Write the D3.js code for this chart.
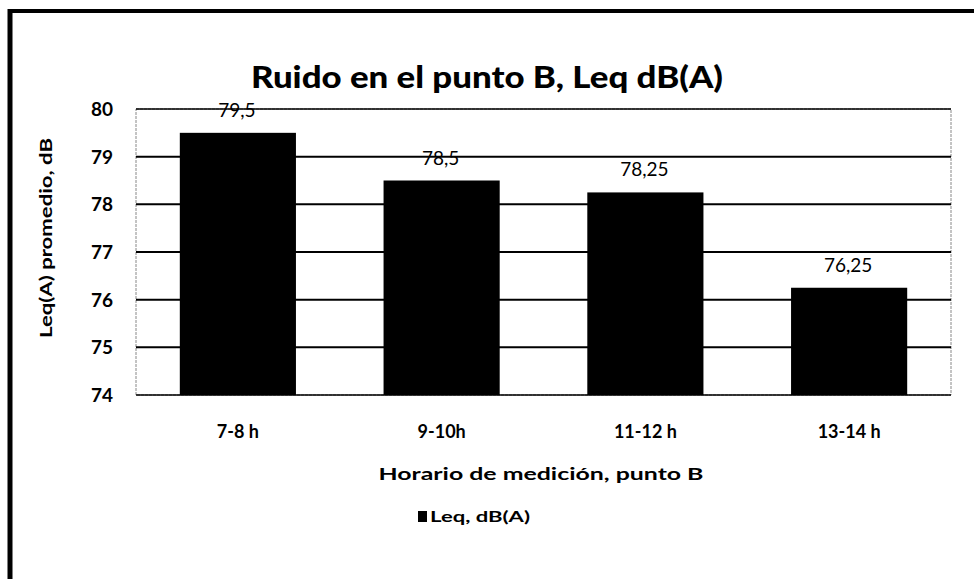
<!DOCTYPE html>
<html>
<head>
<meta charset="utf-8">
<script src="https://cdn.jsdelivr.net/npm/d3@7"></script>
<style>
  body { margin: 0; background: #fff; }
  svg text { font-family: Lato, "Open Sans", sans-serif; fill: #000; }
</style>
</head>
<body>
<svg id="chart" width="974" height="579"></svg>
<script>
var categories = ["7-8 h", "9-10h", "11-12 h", "13-14 h"];
var values = [79.5, 78.5, 78.25, 76.25];
var valueLabels = ["79,5", "78,5", "78,25", "76,25"];
var yTicks = [74, 75, 76, 77, 78, 79, 80];

var width = 974, height = 579;
var margin = {top: 109, right: 23, bottom: 184, left: 136};

var svg = d3.select("#chart");

// outer frame (only top and left edges visible in the scan)
svg.append("line").attr("x1", 10).attr("x2", 974).attr("y1", 11).attr("y2", 11)
  .attr("stroke", "#000").attr("stroke-width", 4);
svg.append("line").attr("x1", 10).attr("x2", 10).attr("y1", 9).attr("y2", 579)
  .attr("stroke", "#000").attr("stroke-width", 5);

var x = d3.scaleBand()
  .domain(categories)
  .range([margin.left, width - margin.right])
  .paddingInner(0.43)
  .paddingOuter(0.215);

var y = d3.scaleLinear()
  .domain([74, 80])
  .range([height - margin.bottom, margin.top]);

// plot area border
svg.append("rect")
  .attr("x", margin.left).attr("y", margin.top)
  .attr("width", width - margin.right - margin.left)
  .attr("height", height - margin.bottom - margin.top)
  .attr("fill", "none").attr("stroke", "#888").attr("stroke-width", 1)
  .attr("stroke-dasharray", "3,1");

// gridlines
svg.append("g").selectAll("line")
  .data(yTicks)
  .enter().append("line")
  .attr("x1", margin.left).attr("x2", width - margin.right)
  .attr("y1", function(d) { return y(d); })
  .attr("y2", function(d) { return y(d); })
  .attr("stroke", "#000")
  .attr("stroke-width", function(d) { return d == 74 || d == 80 ? 1.5 : 2; });

// y axis labels
var yAxis = d3.axisLeft(y).tickValues(yTicks).tickFormat(d3.format("d")).tickSize(0).tickPadding(0);
var yg = svg.append("g").attr("transform", "translate(113,0)").call(yAxis);
yg.select(".domain").remove();
yg.selectAll("text")
  .style("font-size", "19px").style("font-weight", "bold")
  .style("font-family", "Lato, sans-serif")
  .attr("dy", "0.35em");

// bars
svg.append("g").selectAll("rect")
  .data(values)
  .enter().append("rect")
  .attr("x", function(d, i) { return x(categories[i]); })
  .attr("y", function(d) { return y(d); })
  .attr("width", x.bandwidth())
  .attr("height", function(d) { return y(74) - y(d); })
  .attr("fill", "#000");

// value labels
svg.append("g").selectAll("text")
  .data(values)
  .enter().append("text")
  .attr("x", function(d, i) { return x(categories[i]) + x.bandwidth() / 2 - 1; })
  .attr("y", function(d) { return y(d) - 16; })
  .attr("text-anchor", "middle")
  .style("font-size", "19px")
  .text(function(d, i) { return valueLabels[i]; });

// x axis labels
var xAxis = d3.axisBottom(x).tickSize(0).tickPadding(0);
var xg = svg.append("g").attr("transform", "translate(0,425)").call(xAxis);
xg.select(".domain").remove();
xg.selectAll("text")
  .style("font-size", "18px").style("font-weight", "bold")
  .style("font-family", "Lato, sans-serif");

// title
svg.append("text")
  .attr("x", 487).attr("y", 88)
  .attr("text-anchor", "middle")
  .attr("textLength", 472).attr("lengthAdjust", "spacingAndGlyphs")
  .style("font-size", "31px").style("font-weight", "900")
  .text("Ruido en el punto B, Leq dB(A)");

// x axis title
svg.append("text")
  .attr("x", 541).attr("y", 480)
  .attr("text-anchor", "middle")
  .attr("textLength", 325).attr("lengthAdjust", "spacingAndGlyphs")
  .style("font-size", "17px").style("font-weight", "bold")
  .text("Horario de medición, punto B");

// y axis title
svg.append("text")
  .attr("transform", "translate(52,238) rotate(-90)")
  .attr("text-anchor", "middle")
  .attr("textLength", 200).attr("lengthAdjust", "spacingAndGlyphs")
  .style("font-size", "17px").style("font-weight", "bold")
  .text("Leq(A) promedio, dB");

// legend
var legend = svg.append("g").attr("transform", "translate(418,511)");
legend.append("rect").attr("x", 0).attr("y", 0).attr("width", 9).attr("height", 11).attr("fill", "#000");
legend.append("text").attr("x", 12).attr("y", 11)
  .attr("textLength", 100).attr("lengthAdjust", "spacingAndGlyphs")
  .style("font-size", "16px").style("font-weight", "bold")
  .text("Leq, dB(A)");
</script>
</body>
</html>
